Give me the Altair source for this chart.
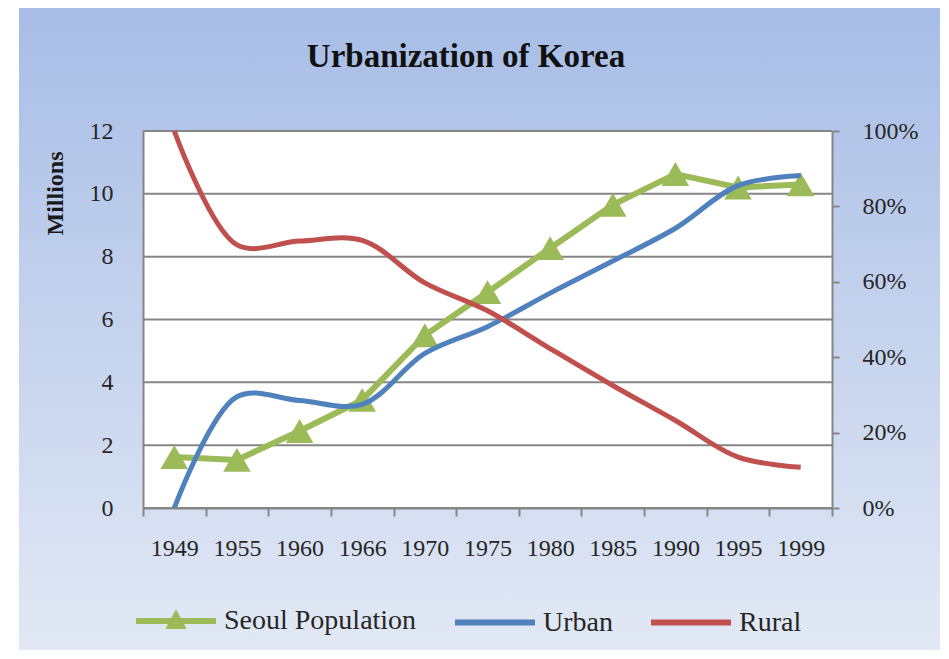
import altair as alt
import pandas as pd

# ---------------- data ----------------
years = ["1949", "1955", "1960", "1966", "1970", "1975", "1980", "1985", "1990", "1995", "1999"]
seoul_millions = [1.62, 1.53, 2.45, 3.44, 5.5, 6.87, 8.27, 9.65, 10.63, 10.2, 10.3]
urban_pct = [0, 29.5, 28.5, 27.5, 41, 48.1, 57, 65.5, 74.2, 85.5, 88.2]
rural_pct = [100, 69.8, 70.8, 71, 59.7, 52.3, 42.3, 32.5, 23.2, 13.5, 10.8]
series_names = ["Seoul Population", "Urban", "Rural"]
series_colors = ["#9BBB59", "#4F81BD", "#C0504D"]
left_ticks = [0, 2, 4, 6, 8, 10, 12]
right_ticks = [0, 20, 40, 60, 80, 100]
chart_title = "Urbanization of Korea"

# ---------------- layout / style ----------------
W, H = 689, 377
FONT = "Liberation Serif"
TEXT = "#262626"
GRID = "#868686"

seoul_df = pd.DataFrame({"year": years, "value": seoul_millions, "series": series_names[0]})
pct_df = pd.DataFrame({
    "year": years + years,
    "value": urban_pct + rural_pct,
    "series": [series_names[1]] * len(years) + [series_names[2]] * len(years),
})
grid_df = pd.DataFrame({"value": left_ticks})
one = pd.DataFrame({"label": [chart_title]})

x_axis = alt.Axis(zindex=1, labelFontSize=24, labelAngle=0, tickSize=8, tickBand="extent",
                  labelPadding=20, title=None)
x_enc = alt.X(
    "year:O",
    bandPosition=0.5,
    scale=alt.Scale(type="band", domain=years, paddingInner=0, paddingOuter=0),
    axis=x_axis,
    title=None,
)
left_axis = alt.Axis(orient="left", zindex=1, values=left_ticks, title="Millions",
                     ticks=False, labelPadding=30, labelFontSize=24,
                     titleFontSize=24, titleFontWeight="bold", titleColor="#1a1a1a",
                     titleX=-88, titleY=62, titleAngle=270, titleAlign="center",
                     titleBaseline="middle")
y_left = alt.Y("value:Q", scale=alt.Scale(domain=[0, 12], nice=False), axis=left_axis, title="Millions")

gradient = {
    "gradient": "linear", "x1": 0, "y1": 0, "x2": 0, "y2": 1,
    "stops": [{"offset": 0, "color": "#a7bde6"}, {"offset": 1, "color": "#e3e9f5"}],
}

bg = alt.Chart(one).mark_rect(fill=gradient).encode(
    x=alt.value(-124), x2=alt.value(802), y=alt.value(-124), y2=alt.value(528)
)
plot_bg = alt.Chart(one).mark_rect(fill="white").encode(
    x=alt.value(0), x2=alt.value(W), y=alt.value(0), y2=alt.value(H)
)
title_mark = alt.Chart(one).mark_text(
    font=FONT, fontSize=33, fontWeight="bold", color="#111111", align="center", baseline="alphabetic"
).encode(x=alt.value(323), y=alt.value(-64), text="label:N")

grid = alt.Chart(grid_df).mark_rule(color=GRID, strokeWidth=2).encode(y=y_left)

seoul_line = alt.Chart(seoul_df).mark_line(strokeWidth=6, color=series_colors[0]).encode(
    x=x_enc, y=y_left
)
seoul_pts = alt.Chart(seoul_df).mark_point(
    shape="triangle-up", filled=True, size=760, opacity=1, color=series_colors[0]
).encode(x=x_enc, y=y_left)

line_path = "M-1,0H1"
seoul_path = "M-1,0H1M-0.14,0.12L0,-0.14L0.14,0.12Z"
leg = alt.Legend(orient="none", legendX=-10, legendY=447, direction="horizontal", title=None,
                 symbolSize=6400, symbolStrokeWidth=6, symbolOpacity=1, zindex=2,
                 labelFont=FONT, labelFontSize=28, labelColor=TEXT, labelOffset=5,
                 labelLimit=400, columnPadding=26, padding=0)
legend_layer = alt.Chart(seoul_df).mark_point(opacity=1, strokeWidth=6, size=0).encode(
    x=x_enc,
    y=y_left,
    fill=alt.Fill("series:N", scale=alt.Scale(domain=series_names, range=series_colors), legend=leg),
    stroke=alt.Stroke("series:N", scale=alt.Scale(domain=series_names, range=series_colors), legend=leg),
    shape=alt.Shape("series:N", scale=alt.Scale(domain=series_names, range=[seoul_path, line_path, line_path]), legend=leg),
)

left = alt.layer(grid, seoul_line, seoul_pts, legend_layer)

right = alt.Chart(pct_df).mark_line(strokeWidth=5, interpolate="catmull-rom").encode(
    x=x_enc,
    y=alt.Y("value:Q", scale=alt.Scale(domain=[0, 100], nice=False),
            axis=alt.Axis(orient="right", zindex=1, values=right_ticks, labelExpr="datum.value + '%'",
                          tickSize=7, labelPadding=23, labelFontSize=24, title=None)),
    color=alt.Color("series:N", scale=alt.Scale(domain=series_names[1:], range=series_colors[1:]), legend=None),
)

chart = alt.layer(bg, plot_bg, title_mark, left, right).resolve_scale(y="independent").properties(
    width=W, height=H,
    padding={"left": 135, "top": 123, "right": 108, "bottom": 142},
    autosize=alt.AutoSizeParams(type="none"),
).configure_view(stroke=None).configure_axis(
    labelFont=FONT, labelColor=TEXT, domainColor=GRID, domainWidth=2, tickColor=GRID,
    tickWidth=2, grid=False, titleFont=FONT,
)

chart.save("out.html", embed_options={"renderer": "svg", "actions": False})
